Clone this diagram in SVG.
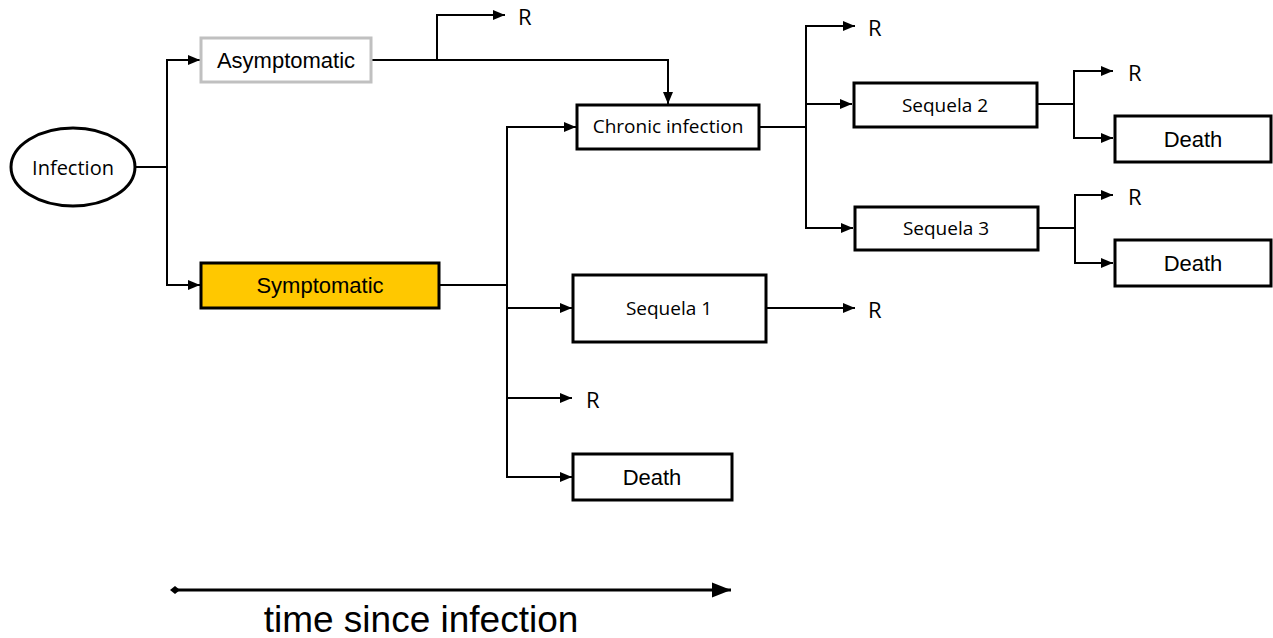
<svg xmlns="http://www.w3.org/2000/svg" width="1273" height="638" viewBox="0 0 1273 638">
<style>
.box{fill:#fff;stroke:#000;stroke-width:3}
.ar{font-family:"Liberation Sans",Arial,sans-serif;font-size:22px;fill:#000;text-anchor:middle}
.ca{font-family:"Open Sans","Noto Sans",sans-serif;font-size:19px;fill:#000;text-anchor:middle}
.r{font-family:"Open Sans","Noto Sans",sans-serif;font-size:22px;fill:#000}
.c{fill:none;stroke:#000;stroke-width:2}
.a{marker-end:url(#ah)}
</style>
<defs>
<marker id="ah" markerUnits="userSpaceOnUse" markerWidth="13" markerHeight="12" refX="12" refY="6" orient="auto"><path d="M0,1 L12,6 L0,11 z" fill="#000"/></marker>
<marker id="big" markerUnits="userSpaceOnUse" markerWidth="20" markerHeight="16" refX="19" refY="8" orient="auto"><path d="M0,0.5 L19,8 L0,15.5 z" fill="#000"/></marker>
<marker id="dia" markerUnits="userSpaceOnUse" markerWidth="10" markerHeight="10" refX="5" refY="5" orient="auto"><path d="M0,5 L5,1 L10,5 L5,9 z" fill="#000"/></marker>
</defs>
<g id="connectors">
<path class="c" d="M136,167 H167"/>
<path class="c a" d="M167,167 V60 H200"/>
<path class="c a" d="M167,167 V285 H200"/>
<path class="c a" d="M371,60 H668 V104"/>
<path class="c a" d="M437,60 V15 H505"/>
<path class="c" d="M439,285 H507"/>
<path class="c a" d="M507,285 V127 H576"/>
<path class="c a" d="M507,285 V308 H572"/>
<path class="c a" d="M507,308 V398 H572"/>
<path class="c a" d="M507,398 V477 H572"/>
<path class="c a" d="M766,308 H855"/>
<path class="c" d="M759,127 H806"/>
<path class="c a" d="M806,127 V26 H855"/>
<path class="c a" d="M806,104 H852"/>
<path class="c a" d="M806,127 V228 H853"/>
<path class="c" d="M1037,104 H1074"/>
<path class="c a" d="M1074,104 V71 H1113"/>
<path class="c a" d="M1074,104 V138 H1113"/>
<path class="c" d="M1038,228 H1075"/>
<path class="c a" d="M1075,228 V195 H1113"/>
<path class="c a" d="M1075,228 V263 H1113"/>
<path d="M175,590 H731" fill="none" stroke="#000" stroke-width="3" marker-start="url(#dia)" marker-end="url(#big)"/>
</g>
<g id="infection"><ellipse cx="73" cy="167" rx="62" ry="39" class="box"/><text x="73" y="175" class="ca" style="font-size:20px">Infection</text></g>
<g id="asymptomatic"><rect x="201" y="38" width="170" height="44" fill="#fff" stroke="#c0c0c0" stroke-width="3"/><text x="286" y="68" class="ar">Asymptomatic</text></g>
<g id="symptomatic"><rect x="201" y="263" width="238" height="45" fill="#ffc800" stroke="#000" stroke-width="3"/><text x="320" y="293" class="ar">Symptomatic</text></g>
<g id="chronic"><rect x="577" y="105" width="182" height="44" class="box"/><text x="668" y="133" class="ca">Chronic infection</text></g>
<g id="sequela1"><rect x="573" y="275" width="193" height="67" class="box"/><text x="669" y="315" class="ca">Sequela 1</text></g>
<g id="death1"><rect x="573" y="454" width="159" height="46" class="box"/><text x="652" y="485" class="ar">Death</text></g>
<g id="sequela2"><rect x="854" y="83" width="183" height="44" class="box"/><text x="945" y="112" class="ca">Sequela 2</text></g>
<g id="sequela3"><rect x="855" y="207" width="183" height="43" class="box"/><text x="946" y="235" class="ca">Sequela 3</text></g>
<g id="death2"><rect x="1115" y="116" width="156" height="46" class="box"/><text x="1193" y="147" class="ar">Death</text></g>
<g id="death3"><rect x="1115" y="240" width="156" height="46" class="box"/><text x="1193" y="271" class="ar">Death</text></g>
<g id="r-labels">
<text x="518" y="25" class="r">R</text>
<text x="868" y="36" class="r">R</text>
<text x="1128" y="81" class="r">R</text>
<text x="1128" y="205" class="r">R</text>
<text x="868" y="318" class="r">R</text>
<text x="586" y="408" class="r">R</text>
</g>
<text x="421" y="632" style="font-family:'Liberation Sans',Arial,sans-serif;font-size:37px;text-anchor:middle;fill:#000">time since infection</text>
</svg>
